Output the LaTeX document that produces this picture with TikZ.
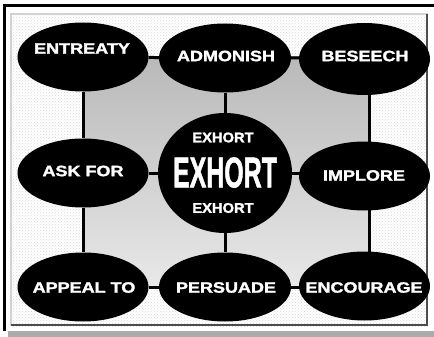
\documentclass[tikz,border=0pt]{standalone}
\usepackage{fontspec}
\setmainfont{Liberation Sans}
\newfontfamily\heavy{Liberation Sans Bold}[FakeBold=1.6]
\usetikzlibrary{shapes.geometric,patterns,backgrounds}
\begin{document}
\begin{tikzpicture}[x=1pt,y=-1pt,
  oval/.style={ellipse,fill=black,inner sep=0pt,minimum width=131pt,minimum height=69pt},
  lbl/.style={text=white,inner sep=0pt,font=\fontsize{15}{15}\selectfont\heavy},
  small/.style={text=white,inner sep=0pt,font=\fontsize{14}{14}\selectfont\heavy},
  conn/.style={line width=3pt,black}]
\useasboundingbox (0,0) rectangle (434,337);
% nodes
\node[oval] (en) at (83,57) {};
\node[oval,minimum width=132pt] (ad) at (225,58) {};
\node[oval,minimum height=72pt] (be) at (364.5,59) {};
\node[oval] (ak) at (83,173) {};
\node[oval,minimum width=134pt,minimum height=120pt] (ex) at (225,173) {};
\node[oval] (im) at (364.5,176) {};
\node[oval] (ap) at (83,287) {};
\node[oval,minimum width=132pt] (pe) at (225,287) {};
\node[oval] (ec) at (364.5,286) {};
% gray centre field and connectors (behind ellipses)
\begin{scope}[on background layer]
% outer frame
\fill[white] (0,0) rectangle (434,337);
\fill[black] (3,4) rectangle (434,7);
\fill[black] (3,4) rectangle (6,331);
\fill[gray!65] (8,331) rectangle (434,337);
% patterned panel
\fill[white] (11,14) rectangle (428,326);
\fill[pattern=crosshatch dots,pattern color=gray!30] (11,14) rectangle (428,326);
\draw[gray!35,line width=1.5pt] (11,326) -- (11,14) -- (428,14);
\draw[gray!60!black,line width=2.5pt] (11,325) -- (427,325) -- (427,14);
\shade[top color=gray!55,middle color=gray!35,bottom color=gray!18]
  (en.center) rectangle ([xshift=4.5pt]ec.center |- ap.center);
\draw[conn] (en) -- (ad) -- ([xshift=4.5pt]be.center |- ad.center);
\draw[conn] (ak) -- (ex) -- ([xshift=4.5pt]im.center |- ex.center);
\draw[conn] (ap) -- (pe) -- ([xshift=4.5pt]ec.center |- pe.center);
\draw[conn] (en) -- (ak) -- (ap);
\draw[conn] (ad) -- (ex) -- (pe);
\draw[conn] ([xshift=4.5pt]be.center) -- ([xshift=4.5pt]im.center) -- ([xshift=4.5pt]ec.center);
\end{scope}
% labels
\node[lbl] (t1) at (82,48.5) {\scalebox{1.2}[1]{ENTREATY}};
\node[lbl] (t2) at (226,56) {\scalebox{1.2}[1]{ADMONISH}};
\node[lbl] (t3) at (365,56) {\scalebox{1.2}[1]{BESEECH}};
\node[lbl] (t4) at (83,171) {\scalebox{1.2}[1]{ASK FOR}};
\node[lbl] (t6) at (364,175.5) {\scalebox{1.2}[1]{IMPLORE}};
\node[lbl] (t7) at (84,287.5) {\scalebox{1.2}[1]{APPEAL TO}};
\node[lbl] (t8) at (226,287.5) {\scalebox{1.2}[1]{PERSUADE}};
\node[lbl] (t9) at (364,287.5) {\scalebox{1.2}[1]{ENCOURAGE}};
\node[small] (s1) at (223,137.5) {\scalebox{1.05}[1]{EXHORT}};
\node[text=white,inner sep=0pt,font=\fontsize{43}{43}\selectfont\heavy] (big) at (225,172.5) {\scalebox{0.58}[1]{EXHORT}};
\node[small] (s2) at (223,208) {\scalebox{1.05}[1]{EXHORT}};
\end{tikzpicture}
\end{document}
